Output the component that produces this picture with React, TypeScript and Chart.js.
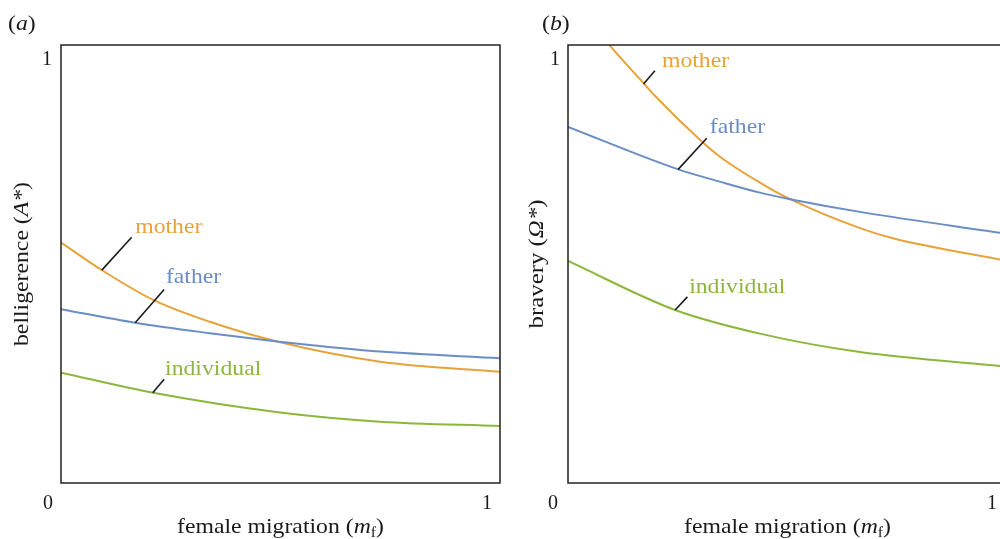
import React, { useEffect, useRef } from 'react';
import { Chart, registerables } from 'chart.js';
Chart.register(...registerables);

const FONT = '"Liberation Serif", "Times New Roman", serif';
const SX = 1.13; // horizontal stretch of the original figure's lettering

const MOTHER_COLOR = '#E8A23A';
const FATHER_COLOR = '#6B8DC5';
const INDIV_COLOR = '#8CB63C';
const INK = '#1a1a1a';

// axis ticks
const X_TICKS = [0, 1];
const Y_TICKS = [1];

// Panel (a): belligerence A* vs female migration m_f
const A_MOTHER_X = [0, 0.093, 0.21, 0.339, 0.492, 0.727, 1];
const A_MOTHER_Y = [0.549, 0.486, 0.418, 0.368, 0.323, 0.277, 0.254];
const A_FATHER_X = [0, 0.169, 0.339, 0.492, 0.567, 0.727, 1];
const A_FATHER_Y = [0.397, 0.366, 0.342, 0.323, 0.315, 0.3, 0.285];
const A_INDIV_X = [0, 0.21, 0.499, 0.727, 1];
const A_INDIV_Y = [0.252, 0.206, 0.161, 0.14, 0.13];

// Panel (b): bravery Ω* vs female migration m_f
const B_MOTHER_X = [0, 0.05, 0.096, 0.172, 0.198, 0.301, 0.346, 0.437, 0.506, 0.665, 0.74, 1];
const B_MOTHER_Y = [1.125, 1.056, 0.998, 0.913, 0.884, 0.783, 0.745, 0.686, 0.648, 0.582, 0.559, 0.507];
const B_FATHER_X = [0, 0.251, 0.346, 0.437, 0.506, 0.665, 1];
const B_FATHER_Y = [0.813, 0.716, 0.688, 0.663, 0.648, 0.619, 0.569];
const B_INDIV_X = [0, 0.244, 0.437, 0.665, 1];
const B_INDIV_Y = [0.507, 0.395, 0.341, 0.299, 0.266];

// curve labels (anchors in data units)
const A_LABELS = [
  { text: 'mother', color: MOTHER_COLOR, at: [0.169, 0.571], from: [0.093, 0.486], to: [0.161, 0.561] },
  { text: 'father', color: FATHER_COLOR, at: [0.239, 0.456], from: [0.169, 0.366], to: [0.235, 0.442] },
  { text: 'individual', color: INDIV_COLOR, at: [0.237, 0.247], from: [0.209, 0.206], to: [0.235, 0.237] },
];
const B_LABELS = [
  { text: 'mother', color: MOTHER_COLOR, at: [0.214, 0.95], from: [0.172, 0.911], to: [0.198, 0.941] },
  { text: 'father', color: FATHER_COLOR, at: [0.323, 0.798], from: [0.251, 0.716], to: [0.316, 0.787] },
  { text: 'individual', color: INDIV_COLOR, at: [0.276, 0.434], from: [0.244, 0.395], to: [0.272, 0.425] },
];

type Seg = { t: string; italic?: boolean; sub?: boolean };

function drawRich(
  ctx: CanvasRenderingContext2D,
  segs: Seg[],
  x: number,
  y: number,
  size: number,
  align: 'left' | 'center',
  rotate: boolean,
  color: string
) {
  ctx.save();
  ctx.translate(x, y);
  if (rotate) ctx.rotate(-Math.PI / 2);
  ctx.scale(SX, 1);
  const fontFor = (s: Seg) =>
    `${s.italic ? 'italic ' : ''}${s.sub ? Math.round(size * 0.68) : size}px ${FONT}`;
  const widths = segs.map((s) => {
    ctx.font = fontFor(s);
    return ctx.measureText(s.t).width;
  });
  const total = widths.reduce((a, b) => a + b, 0);
  let cx = align === 'center' ? -total / 2 : 0;
  ctx.fillStyle = color;
  ctx.textAlign = 'left';
  ctx.textBaseline = 'alphabetic';
  segs.forEach((s, i) => {
    ctx.font = fontFor(s);
    ctx.fillText(s.t, cx, s.sub ? size * 0.2 : 0);
    cx += widths[i];
  });
  ctx.restore();
}

const toPts = (xs: number[], ys: number[]) => xs.map((x, i) => ({ x, y: ys[i] }));

type PanelProps = {
  left: number;
  series: { label: string; color: string; xs: number[]; ys: number[] }[];
  labels: typeof A_LABELS;
  yTitle: Seg[];
  yTitleSize: number;
  panel: string;
  yTitleX: number;
  panelX: number;
  xLabelShift: number;
  yLabelPad: number;
};

function Panel(p: PanelProps) {
  const ref = useRef<HTMLCanvasElement>(null);
  useEffect(() => {
    const overlay = {
      id: 'overlay',
      afterDatasetsDraw(chart: any) {
        const { ctx, chartArea: a, scales } = chart;
        const xs = scales.x;
        const ys = scales.y;
        ctx.save();
        // frame
        ctx.strokeStyle = '#222';
        ctx.lineWidth = 1.5;
        ctx.strokeRect(a.left, a.top, a.right - a.left, a.bottom - a.top);
        // leader lines + curve names
        ctx.lineWidth = 1.6;
        ctx.strokeStyle = INK;
        p.labels.forEach((l) => {
          ctx.beginPath();
          ctx.moveTo(xs.getPixelForValue(l.from[0]), ys.getPixelForValue(l.from[1]));
          ctx.lineTo(xs.getPixelForValue(l.to[0]), ys.getPixelForValue(l.to[1]));
          ctx.stroke();
          drawRich(
            ctx,
            [{ t: l.text }],
            xs.getPixelForValue(l.at[0]),
            ys.getPixelForValue(l.at[1]),
            21,
            'left',
            false,
            l.color
          );
        });
        // axis titles
        drawRich(
          ctx,
          [{ t: 'female migration (' }, { t: 'm', italic: true }, { t: 'f', sub: true }, { t: ')' }],
          (a.left + a.right) / 2,
          533,
          21,
          'center',
          false,
          INK
        );
        drawRich(ctx, p.yTitle, p.yTitleX, (a.top + a.bottom) / 2, p.yTitleSize, 'center', true, INK);
        // panel label
        drawRich(ctx, [{ t: '(' }, { t: p.panel, italic: true }, { t: ')' }], p.panelX, 30, 21, 'left', false, INK);
        ctx.restore();
      },
    };

    const chart = new Chart(ref.current!, {
      type: 'line',
      data: {
        datasets: p.series.map((s) => ({
          label: s.label,
          data: toPts(s.xs, s.ys),
          borderColor: s.color,
          backgroundColor: s.color,
          borderWidth: 2,
          pointRadius: 0,
          fill: false,
          cubicInterpolationMode: 'monotone',
        })),
      },
      options: {
        responsive: false,
        maintainAspectRatio: false,
        animation: false,
        events: [],
        layout: { padding: { top: 45, right: 10, left: 0, bottom: 0 } },
        plugins: { legend: { display: false }, tooltip: { enabled: false }, title: { display: false } },
        scales: {
          x: {
            type: 'linear',
            min: 0,
            max: 1,
            afterBuildTicks: (ax: any) => {
              ax.ticks = X_TICKS.map((v) => ({ value: v }));
            },
            afterFit: (s: any) => {
              s.height = 56;
              s.paddingLeft = 0;
              s.paddingRight = 0;
            },
            grid: { display: false, drawTicks: false },
            border: { display: false },
            ticks: {
              autoSkip: false,
              maxRotation: 0,
              labelOffset: p.xLabelShift,
              padding: 9,
              color: INK,
              font: { family: FONT, size: 20 },
              callback: (v: any) => String(v),
            },
          },
          y: {
            type: 'linear',
            min: 0,
            max: 1,
            afterBuildTicks: (ax: any) => {
              ax.ticks = Y_TICKS.map((v) => ({ value: v }));
            },
            afterFit: (s: any) => {
              s.width = 61;
              s.paddingTop = 0;
              s.paddingBottom = 0;
            },
            grid: { display: false, drawTicks: false },
            border: { display: false },
            ticks: {
              autoSkip: false,
              labelOffset: 15,
              padding: p.yLabelPad,
              color: INK,
              font: { family: FONT, size: 20 },
              callback: (v: any) => String(v),
            },
          },
        },
      },
      plugins: [overlay],
    } as any);
    return () => chart.destroy();
  }, []);
  return (
    <canvas
      ref={ref}
      width={510}
      height={539}
      style={{ position: 'absolute', left: p.left, top: 0, width: 510, height: 539 }}
    />
  );
}

export default function App() {
  return (
    <div
      style={{
        position: 'fixed',
        left: 0,
        top: 0,
        width: 1000,
        height: 539,
        overflow: 'hidden',
        background: '#fff',
      }}
    >
      <Panel
        left={0}
        series={[
          { label: 'father', color: FATHER_COLOR, xs: A_FATHER_X, ys: A_FATHER_Y },
          { label: 'mother', color: MOTHER_COLOR, xs: A_MOTHER_X, ys: A_MOTHER_Y },
          { label: 'individual', color: INDIV_COLOR, xs: A_INDIV_X, ys: A_INDIV_Y },
        ]}
        labels={A_LABELS}
        yTitle={[{ t: 'belligerence (' }, { t: 'A*', italic: true }, { t: ')' }]}
        yTitleSize={21}
        panel="a"
        yTitleX={28}
        panelX={8}
        xLabelShift={-13}
        yLabelPad={9}
      />
      <Panel
        left={507}
        series={[
          { label: 'father', color: FATHER_COLOR, xs: B_FATHER_X, ys: B_FATHER_Y },
          { label: 'mother', color: MOTHER_COLOR, xs: B_MOTHER_X, ys: B_MOTHER_Y },
          { label: 'individual', color: INDIV_COLOR, xs: B_INDIV_X, ys: B_INDIV_Y },
        ]}
        labels={B_LABELS}
        yTitle={[{ t: 'bravery (' }, { t: 'Ω*', italic: true }, { t: ')' }]}
        yTitleSize={22}
        panel="b"
        yTitleX={36}
        panelX={35}
        xLabelShift={-15}
        yLabelPad={8}
      />
    </div>
  );
}
